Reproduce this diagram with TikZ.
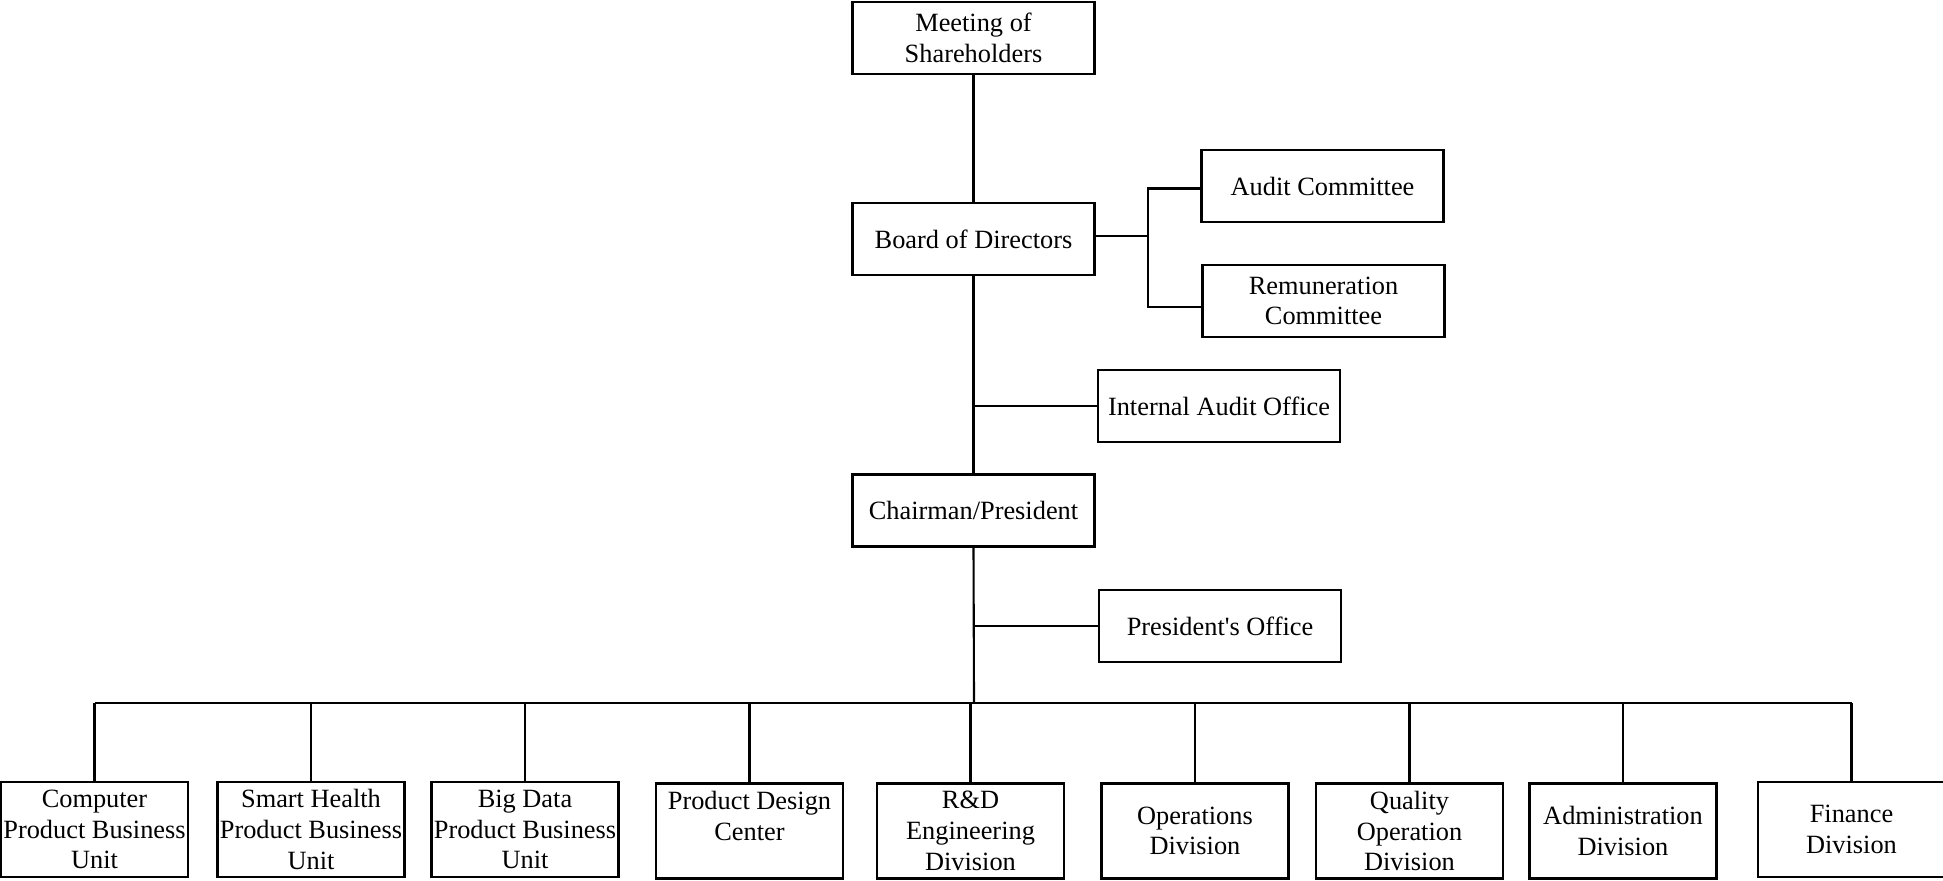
\documentclass[tikz,border=0pt]{standalone}
\usepackage{fontspec}
\setmainfont{Liberation Serif}

\begin{document}
\begin{tikzpicture}[
    x=0.02cm, y=-0.02cm,
    line width=1.2pt, color=black,
    unit/.style={draw, rectangle, line width=1.2pt, minimum width=4.84cm, minimum height=1.44cm,
      inner sep=2pt, align=center, font=\fontsize{15}{17.5}\selectfont},
    dept/.style={unit, minimum width=3.74cm, minimum height=1.9cm, inner sep=0pt}]
  % fixed 1943 x 880 canvas
  \path[use as bounding box] (0,0) rectangle (1943,880);

  % ================= governance =================
  \node[unit] (meet) at (973.5,38) {Meeting of\\Shareholders};
  \node[unit] (bod) at (973.5,239) {Board of Directors};
  \node[unit] (audit) at (1322.5,186) {Audit Committee};
  \node[unit] (remun) at (1323.5,301) {Remuneration\\Committee};
  \node[unit] (iao) at (1219,406) {Internal Audit Office};
  \node[unit] (chair) at (973.5,510.5) {Chairman/President};
  \node[unit] (po) at (1220,626) {President\textquotesingle s Office};

  \draw (meet) -- (bod);
  \draw (bod) -- (chair);
  \coordinate (fork) at (1148,236);
  \draw (bod.east |- fork) -- (fork);
  \draw (fork) |- ([yshift=-0.05cm]audit.west);
  \draw (fork) |- ([yshift=-0.12cm]remun.west);
  \draw (bod.south |- iao.west) -- (iao.west);

  % ================= divisions =================
  \node[dept] (d1) at (94.5,829.5) {Computer\\Product Business\\Unit};
  \node[dept] (d2) at (311,829.5) {Smart Health\\Product Business\\Unit};
  \node[dept] (d3) at (525,829.5) {Big Data\\Product Business\\Unit};
  \node[dept] (d4) at (749.5,831) {Product Design\\Center\\\mbox{}};
  \node[dept] (d5) at (970.5,831) {R\&D\\Engineering\\Division};
  \node[dept] (d6) at (1195,831) {Operations\\Division};
  \node[dept] (d7) at (1409.5,831) {Quality\\Operation\\Division};
  \node[dept] (d8) at (1623,831) {Administration\\Division};
  \node[dept] (d9) at (1851.5,829.5) {Finance\\Division};

  % bus from the chairman down to every division
  \coordinate (bus) at (974,703);
  \draw (chair.south) -- (bus);
  \draw (chair.south |- po.west) -- (po.west);
  \draw (d1.north |- bus) -- (d9.north |- bus);
  \foreach \d in {d1,d2,d3,d4,d5,d6,d7,d8,d9}
    \draw (\d.north) -- (\d.north |- bus);
\end{tikzpicture}
\end{document}
